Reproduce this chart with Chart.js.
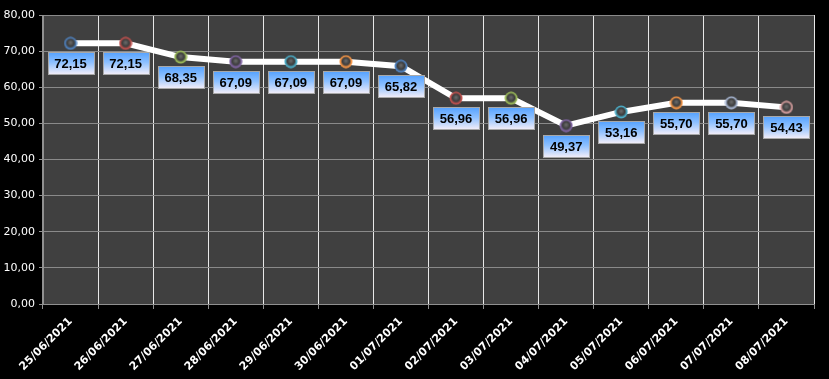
<!DOCTYPE html>
<html>
<head>
<meta charset="utf-8">
<script src="https://cdn.jsdelivr.net/npm/chart.js@4"></script>
<style>
    html, body { margin: 0; padding: 0; background: #000; }
    #wrap { width: 829px; height: 379px; }
</style>
</head>
<body>
<div id="wrap"><canvas id="myChart"></canvas></div>
<script>
const dates = ['25/06/2021', '26/06/2021', '27/06/2021', '28/06/2021', '29/06/2021', '30/06/2021', '01/07/2021',
    '02/07/2021', '03/07/2021', '04/07/2021', '05/07/2021', '06/07/2021', '07/07/2021', '08/07/2021'];
const values = [72.15, 72.15, 68.35, 67.09, 67.09, 67.09, 65.82, 56.96, 56.96, 49.37, 53.16, 55.70, 55.70, 54.43];
const markerColors = ['#4f81bd', '#c0504d', '#9bbb59', '#8064a2', '#4bacc6', '#f79646', '#4f81bd',
    '#c0504d', '#9bbb59', '#8064a2', '#4bacc6', '#f79646', '#a9b8d4', '#d9a0a0'];

const fmt = v => v.toFixed(2).replace('.', ',');

// little shaded "ball" image for each marker
function makeBall(color) {
    const c = document.createElement('canvas');
    c.width = 14;
    c.height = 14;
    const g = c.getContext('2d');
    const rg = g.createRadialGradient(7, 6, 0, 7, 7, 6.5);
    rg.addColorStop(0, '#6e6e6e');
    rg.addColorStop(0.55, '#3c3c3c');
    rg.addColorStop(0.85, color);
    rg.addColorStop(1, color);
    g.fillStyle = rg;
    g.beginPath();
    g.arc(7, 7, 6.5, 0, Math.PI * 2);
    g.fill();
    return c;
}
const balls = markerColors.map(makeBall);

// dark plot background
const plotBg = {
    id: 'plotBg',
    beforeDraw(chart) {
        const { ctx, chartArea: a } = chart;
        ctx.save();
        ctx.fillStyle = '#404040';
        ctx.fillRect(a.left, a.top, a.right - a.left, a.bottom - a.top);
        ctx.restore();
    }
};

// value boxes under each point
const valueBoxes = {
    id: 'valueBoxes',
    afterDatasetsDraw(chart) {
        const ctx = chart.ctx;
        const meta = chart.getDatasetMeta(0);
        ctx.save();
        meta.data.forEach((pt, i) => {
            const w = 46, h = 22;
            const x = Math.round(pt.x - w / 2) + 0.5;
            const y = Math.round(pt.y + 9) + 0.5;
            const g = ctx.createLinearGradient(0, y, 0, y + h);
            g.addColorStop(0, '#55a2ff');
            g.addColorStop(0.45, '#8dc0ff');
            g.addColorStop(1, '#f4eef8');
            ctx.fillStyle = g;
            ctx.fillRect(x, y, w, h);
            ctx.strokeStyle = '#a8a8a8';
            ctx.lineWidth = 1;
            ctx.strokeRect(x, y, w, h);
            ctx.fillStyle = '#000';
            ctx.font = 'bold 13px "Liberation Sans", sans-serif';
            ctx.textAlign = 'center';
            ctx.textBaseline = 'middle';
            ctx.fillText(fmt(chart.data.datasets[0].data[i]), pt.x, y + h / 2 + 1);
        });
        ctx.restore();
    }
};

new Chart(document.getElementById('myChart'), {
    type: 'line',
    data: {
        labels: dates,
        datasets: [{
            data: values,
            borderColor: '#ffffff',
            borderWidth: 6,
            tension: 0,
            pointStyle: balls,
            pointRadius: 7,
            pointHoverRadius: 7
        }]
    },
    options: {
        responsive: true,
        maintainAspectRatio: false,
        animation: false,
        layout: { padding: { top: 15, right: 15, left: 0, bottom: 0 } },
        plugins: { legend: { display: false }, tooltip: { enabled: false } },
        scales: {
            x: {
                offset: true,
                grid: {
                    offset: true,
                    color: c => (c.index === 0 || c.index === dates.length) ? '#909090' : '#e8e8e8',
                    tickColor: '#909090',
                    tickLength: 5
                },
                border: { color: '#909090' },
                ticks: {
                    color: '#ffffff',
                    maxRotation: 45,
                    minRotation: 45,
                    padding: 6,
                    font: { family: '"DejaVu Sans", sans-serif', size: 11, weight: 'bold' }
                },
                afterFit: s => { s.height = 75; }
            },
            y: {
                min: 0,
                max: 80,
                grid: { color: '#8a8a8a', tickColor: '#909090', tickLength: 4 },
                border: { color: '#909090' },
                ticks: {
                    stepSize: 10,
                    color: '#ffffff',
                    padding: 4,
                    font: { family: '"DejaVu Sans", sans-serif', size: 11 },
                    callback: v => fmt(v)
                },
                afterFit: s => { s.width = 43; }
            }
        }
    },
    plugins: [plotBg, valueBoxes]
});
</script>
</body>
</html>
